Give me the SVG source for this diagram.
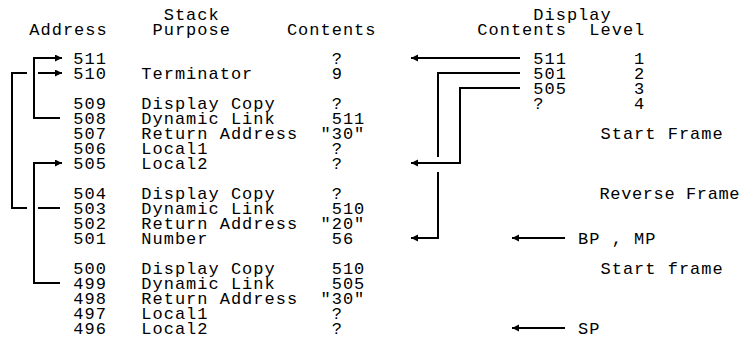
<svg xmlns="http://www.w3.org/2000/svg" width="744" height="339" viewBox="0 0 744 339">
<style>
text{font-family:"Liberation Mono","DejaVu Sans Mono",monospace;font-size:17px;letter-spacing:1px;fill:#000}
.ln{fill:none;stroke:#000;stroke-width:2}
.ar{fill:none;stroke:#000;stroke-width:2;marker-end:url(#ah)}
</style>
<defs>
<marker id="ah" markerUnits="userSpaceOnUse" markerWidth="8" markerHeight="8" refX="7" refY="3.5" orient="auto">
<path d="M0,0 L7,3.5 L0,7 z" fill="#000"/>
</marker>
</defs>
<rect width="744" height="339" fill="#fff"/>
<g id="headers">
<text x="163.7" y="20">Stack</text>
<text x="29.3" y="35">Address</text>
<text x="152.5" y="35">Purpose</text>
<text x="286.9" y="35">Contents</text>
<text x="533.3" y="20">Display</text>
<text x="477.3" y="35">Contents</text>
<text x="589.3" y="35">Level</text>
</g>
<g id="stack">
<g id="r511"><text x="73.3" y="64">511</text><text x="331.7" y="64">?</text></g>
<g id="r510"><text x="73.3" y="79">510</text><text x="141.3" y="79">Terminator</text><text x="331.7" y="79">9</text></g>
<g id="r509"><text x="73.3" y="109">509</text><text x="141.3" y="109">Display Copy</text><text x="331.7" y="109">?</text></g>
<g id="r508"><text x="73.3" y="124">508</text><text x="141.3" y="124">Dynamic Link</text><text x="331.7" y="124">511</text></g>
<g id="r507"><text x="73.3" y="139">507</text><text x="141.3" y="139">Return Address</text><text x="320.5" y="139">"30"</text></g>
<g id="r506"><text x="73.3" y="154">506</text><text x="141.3" y="154">Local1</text><text x="331.7" y="154">?</text></g>
<g id="r505"><text x="73.3" y="169">505</text><text x="141.3" y="169">Local2</text><text x="331.7" y="169">?</text></g>
<g id="r504"><text x="73.3" y="199">504</text><text x="141.3" y="199">Display Copy</text><text x="331.7" y="199">?</text></g>
<g id="r503"><text x="73.3" y="214">503</text><text x="141.3" y="214">Dynamic Link</text><text x="331.7" y="214">510</text></g>
<g id="r502"><text x="73.3" y="229">502</text><text x="141.3" y="229">Return Address</text><text x="320.5" y="229">"20"</text></g>
<g id="r501"><text x="73.3" y="244">501</text><text x="141.3" y="244">Number</text><text x="331.7" y="244">56</text></g>
<g id="r500"><text x="73.3" y="274">500</text><text x="141.3" y="274">Display Copy</text><text x="331.7" y="274">510</text></g>
<g id="r499"><text x="73.3" y="289">499</text><text x="141.3" y="289">Dynamic Link</text><text x="331.7" y="289">505</text></g>
<g id="r498"><text x="73.3" y="304">498</text><text x="141.3" y="304">Return Address</text><text x="320.5" y="304">"30"</text></g>
<g id="r497"><text x="73.3" y="319">497</text><text x="141.3" y="319">Local1</text><text x="331.7" y="319">?</text></g>
<g id="r496"><text x="73.3" y="334">496</text><text x="141.3" y="334">Local2</text><text x="331.7" y="334">?</text></g>
</g>
<g id="display">
<g id="d1"><text x="533.3" y="64">511</text><text x="634.1" y="64">1</text></g>
<g id="d2"><text x="533.3" y="79">501</text><text x="634.1" y="79">2</text></g>
<g id="d3"><text x="533.3" y="94">505</text><text x="634.1" y="94">3</text></g>
<g id="d4"><text x="533.3" y="109">?</text><text x="634.1" y="109">4</text></g>
</g>
<g id="labels">
<text x="600.5" y="139">Start Frame</text>
<text x="599.5" y="199" textLength="141" lengthAdjust="spacing">Reverse Frame</text>
<text x="578.1" y="244">BP , MP</text>
<text x="600.5" y="274">Start frame</text>
<text x="578.1" y="334">SP</text>
</g>
<g id="connectors">
<path class="ln" d="M60,208 H38 M27,208 H12 V73 H27"/>
<path class="ar" d="M38,73 H62"/>
<path class="ar" d="M60,118 H34 V58 H62"/>
<path class="ar" d="M60,283 H34 V163 H62"/>
<path class="ar" d="M520,58 H411"/>
<path class="ln" d="M520,73 H438 V157"/>
<path class="ar" d="M438,172 V238 H411"/>
<path class="ar" d="M520,88 H460 V163 H411"/>
<path class="ar" d="M565,238 H512"/>
<path class="ar" d="M565,328 H512"/>
</g>
</svg>
